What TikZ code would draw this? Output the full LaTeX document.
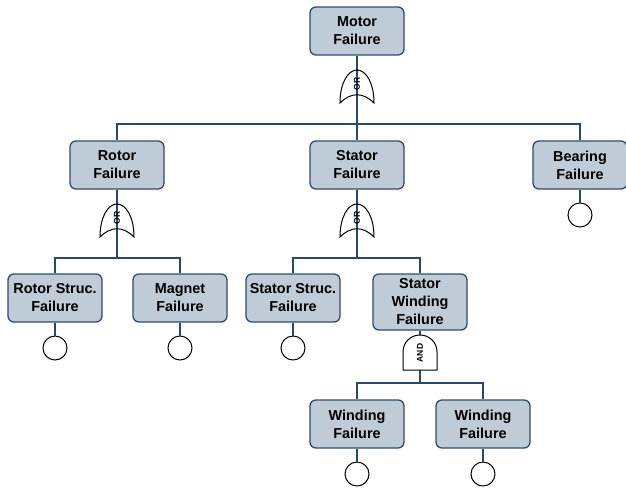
\documentclass[tikz,border=0pt]{standalone}
\usepackage{fontspec}
\setmainfont{Liberation Sans}
\definecolor{boxc}{HTML}{BFCBD7}
\definecolor{bordc}{HTML}{2E4B6B}
\definecolor{linec}{HTML}{2A4868}
\begin{document}
\begin{tikzpicture}[x=1pt,y=-1pt,
 evt/.style={draw=bordc, fill=boxc, line width=1.3pt, rounded corners=6pt, minimum width=94pt, minimum height=48pt, align=center, font=\fontsize{14.4}{18}\selectfont\bfseries, inner xsep=1pt, inner ysep=2pt},
 conn/.style={draw=linec, line width=1.5pt},
 gateline/.style={draw=black, line width=1pt},
 gatetext/.style={font=\fontsize{8.5}{9}\selectfont\bfseries, rotate=90, inner sep=0pt},
 basic/.style={circle, draw=black, line width=1pt, minimum size=24pt, inner sep=0pt},
 orgate/.pic={\draw[gateline] (-17,0) .. controls (-17,-20) and (-9,-33) .. (0,-33) .. controls (9,-33) and (17,-20) .. (17,0) .. controls (6,-11) and (-6,-11) .. (-17,0) -- cycle;
   \node[gatetext] at (0,-19) {OR};},
 andgate/.pic={\draw[gateline, fill=white] (-17,0) -- (-17,-18) .. controls (-17,-28) and (-9,-35) .. (0,-35) .. controls (9,-35) and (17,-28) .. (17,-18) -- (17,0) -- cycle;
   \node[gatetext] at (0,-17) {AND};}]
\useasboundingbox (0,0) rectangle (626,488);
% events
\node[evt] (motor) at (357,31) {Motor\\Failure};
\node[evt] (rotor) at (117,165) {Rotor\\Failure};
\node[evt] (stator) at (357,165) {Stator\\Failure};
\node[evt] (bearing) at (580,165) {Bearing\\Failure};
\node[evt] (rstruc) at (55,298) {Rotor Struc.\\Failure};
\node[evt] (magnet) at (180,298) {Magnet\\Failure};
\node[evt] (sstruc) at (293,298) {Stator Struc.\\Failure};
\node[evt, minimum height=56pt] (swind) at (420,302) {Stator\\Winding\\Failure};
\node[evt] (w1) at (357,424) {Winding\\Failure};
\node[evt] (w2) at (483,424) {Winding\\Failure};
% basic events
\node[basic] (cbear) at (580,215) {};
\node[basic] (crs) at (55,348) {};
\node[basic] (cmag) at (180,348) {};
\node[basic] (css) at (293,348) {};
\node[basic] (cw1) at (357,474) {};
\node[basic] (cw2) at (483,474) {};
% gate anchors
\coordinate (g1) at (357,103);
\coordinate (g2) at (117,237);
\coordinate (g3) at (357,237);
\coordinate (g4) at (420,370);
% connectors
\draw[conn] (motor.south) -- (g1) -- ++(0,21) coordinate (b1);
\draw[conn] (b1) -| (rotor.north);
\draw[conn] (b1) -| (bearing.north);
\draw[conn] (b1) -- (stator.north);
\draw[conn] (rotor.south) -- (g2) -- ++(0,21) coordinate (b2);
\draw[conn] (b2) -| (rstruc.north);
\draw[conn] (b2) -| (magnet.north);
\draw[conn] (stator.south) -- (g3) -- ++(0,21) coordinate (b3);
\draw[conn] (b3) -| (sstruc.north);
\draw[conn] (b3) -| (swind.north);
\draw[conn] (swind.south) -- (g4) -- ++(0,13) coordinate (b4);
\draw[conn] (b4) -| (w1.north);
\draw[conn] (b4) -| (w2.north);
\draw[conn] (bearing.south) -- (cbear.north);
\draw[conn] (rstruc.south) -- (crs.north);
\draw[conn] (magnet.south) -- (cmag.north);
\draw[conn] (sstruc.south) -- (css.north);
\draw[conn] (w1.south) -- (cw1.north);
\draw[conn] (w2.south) -- (cw2.north);
% gates
\pic at (g1) {orgate};
\pic at (g2) {orgate};
\pic at (g3) {orgate};
\pic at (g4) {andgate};
\end{tikzpicture}
\end{document}
